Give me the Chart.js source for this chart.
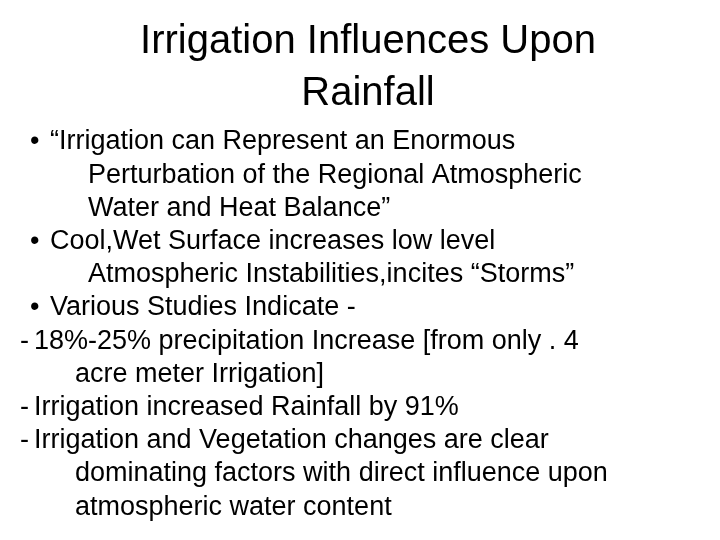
<!DOCTYPE html>
<html>
<head>
<meta charset="utf-8">
<script src="https://cdn.jsdelivr.net/npm/chart.js@4"></script>
<style>
  html, body { margin: 0; padding: 0; background: #fff; }
  #wrap { width: 720px; height: 540px; }
</style>
</head>
<body>
<div id="wrap"><canvas id="slide"></canvas></div>
<script>
// Slide text
const titleLines = ['Irrigation Influences Upon', 'Rainfall'];
const bodyMarks = ['•', '', '', '•', '', '•', '-', '', '-', '-', '', ''];
const bodyLines = [
    '“Irrigation can Represent an Enormous',
    'Perturbation of the Regional Atmospheric',
    'Water and Heat Balance”',
    'Cool,Wet Surface increases low level',
    'Atmospheric Instabilities,incites “Storms”',
    'Various Studies Indicate -',
    '18%-25% precipitation Increase [from only . 4',
    'acre meter Irrigation]',
    'Irrigation increased Rainfall by 91%',
    'Irrigation and Vegetation changes are clear',
    'dominating factors with direct influence upon',
    'atmospheric water content'
];
const bodyIndent = [0, 1, 1, 0, 1, 0, 2, 3, 2, 2, 3, 3];

const FONT = "'Liberation Sans', Arial, sans-serif";

const slideText = {
    id: 'slideText',
    afterDraw(chart) {
        const ctx = chart.ctx;
        ctx.save();
        ctx.fillStyle = '#000';
        ctx.textBaseline = 'middle';
        ctx.textAlign = 'left';
        ctx.font = `27px ${FONT}`;
        const markX = [30, 0, 20, 0];
        const textX = [50, 88, 34, 75];
        bodyLines.forEach((line, i) => {
            const y = 142 + i * 33.2;
            const ind = bodyIndent[i];
            if (bodyMarks[i]) ctx.fillText(bodyMarks[i], markX[ind], y);
            ctx.fillText(line, textX[ind], y);
        });
        ctx.restore();
    }
};

new Chart(document.getElementById('slide'), {
    type: 'line',
    data: { labels: [], datasets: [] },
    options: {
        responsive: true,
        maintainAspectRatio: false,
        animation: false,
        layout: { padding: { top: 16, left: 16 } },
        scales: { x: { display: false }, y: { display: false } },
        plugins: {
            legend: { display: false },
            tooltip: { enabled: false },
            title: {
                display: true,
                text: titleLines,
                color: '#000',
                font: { size: 40, family: FONT, weight: 'normal', lineHeight: 1.3 },
                padding: 0
            }
        }
    },
    plugins: [slideText]
});
</script>
</body>
</html>
